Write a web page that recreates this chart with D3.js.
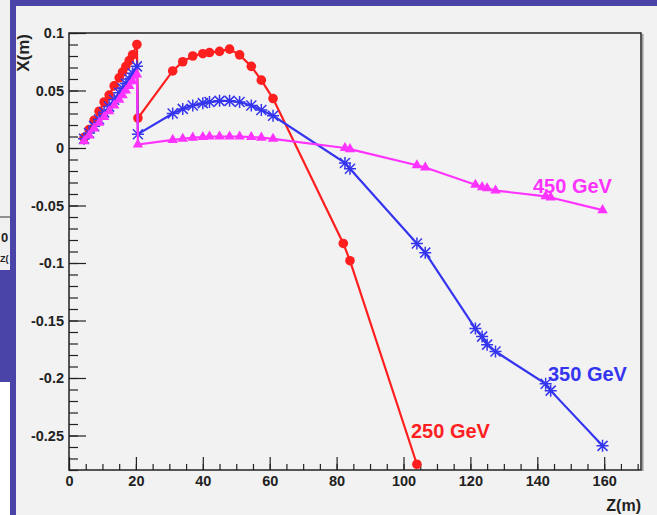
<!DOCTYPE html>
<html lang="en">
<head>
<meta charset="UTF-8">
<title>X vs Z trajectories</title>
<script src="https://cdn.jsdelivr.net/npm/d3@7"></script>
<style>
    html, body { margin: 0; padding: 0; background: #4a44a8; }
    svg { display: block; font-family: "Liberation Sans", Arial, sans-serif; }
</style>
</head>
<body>
<div id="vis"></div>
<script>
    // ---- data (Z in m, X in m) ----
    var z_first = [4.5, 6, 7.5, 9, 10.5, 12, 13.5, 15, 16, 17, 18, 19, 20.3];
    var z_after = [20.6, 31, 34, 37, 40, 42, 45, 48, 51, 54.5, 57.5, 61, 82.5, 84, 104, 106.5, 121.5, 123.5, 125, 127.5, 142.5, 144, 159.5];
    var z_red_after = [20.6, 31, 34, 37, 40, 42, 45, 48, 51, 54.5, 57.5, 61, 82, 84, 104];

    var x_250_first = [0.009, 0.016, 0.024, 0.032, 0.040, 0.046, 0.054, 0.061, 0.066, 0.071, 0.076, 0.081, 0.090];
    var x_250_after = [0.026, 0.067, 0.075, 0.080, 0.082, 0.083, 0.084, 0.086, 0.081, 0.071, 0.059, 0.043, -0.083, -0.098, -0.275];

    var x_350_first = [0.008, 0.013, 0.019, 0.025, 0.031, 0.036, 0.042, 0.048, 0.052, 0.056, 0.060, 0.065, 0.071];
    var x_350_after = [0.012, 0.030, 0.034, 0.037, 0.039, 0.040, 0.041, 0.041, 0.040, 0.037, 0.033, 0.028, -0.013, -0.018, -0.083, -0.091, -0.157, -0.164, -0.171, -0.177, -0.205, -0.211, -0.259];

    var x_450_first = [0.006, 0.011, 0.017, 0.022, 0.027, 0.032, 0.037, 0.042, 0.046, 0.050, 0.054, 0.058, 0.064];
    var x_450_after = [0.003, 0.007, 0.008, 0.009, 0.0095, 0.010, 0.010, 0.010, 0.010, 0.0095, 0.009, 0.008, 0.000, -0.001, -0.015, -0.017, -0.032, -0.034, -0.035, -0.037, -0.042, -0.043, -0.054];

    var y_major = [-0.25, -0.2, -0.15, -0.1, -0.05, 0, 0.05, 0.1];
    var y_labels = ["-0.25", "-0.2", "-0.15", "-0.1", "-0.05", "0", "0.05", "0.1"];
    var x_major = [0, 20, 40, 60, 80, 100, 120, 140, 160];

    function zip(zs, xs) {
        return zs.map(function(z, i) { return {z: z, x: xs[i]}; });
    }

    var series = [
        {name: "250 GeV", color: "#ff1f1f", marker: "circle",
         pts: zip(z_first, x_250_first).concat(zip(z_red_after, x_250_after)),
         label: [411, 438]},
        {name: "350 GeV", color: "#3535f0", marker: "star",
         pts: zip(z_first, x_350_first).concat(zip(z_after, x_350_after)),
         label: [548, 381]},
        {name: "450 GeV", color: "#ff33ff", marker: "triangle",
         pts: zip(z_first, x_450_first).concat(zip(z_after, x_450_after)),
         label: [533, 193]}
    ];

    // ---- layout ----
    var W = 657, H = 515;
    var plot = {left: 69, right: 641, top: 33, bottom: 470};

    var svg = d3.select('#vis').append('svg')
        .attr('width', W)
        .attr('height', H);

    // slide background pieces
    svg.append('rect').attr('x', 0).attr('y', 0).attr('width', W).attr('height', H).attr('fill', '#4a44a8');
    svg.append('rect').attr('x', 0).attr('y', 0).attr('width', 10).attr('height', 270).attr('fill', '#f0f0f0');
    svg.append('line').attr('x1', 0).attr('x2', 10).attr('y1', 217).attr('y2', 217).attr('stroke', '#333').attr('stroke-width', 1);
    svg.append('text').attr('x', 1).attr('y', 242).attr('font-size', 13).attr('font-weight', 'bold').attr('fill', '#222').text('0');
    svg.append('text').attr('x', 0).attr('y', 262).attr('font-size', 9).attr('font-weight', 'bold').attr('fill', '#222').text('Z(');
    svg.append('rect').attr('x', 0).attr('y', 382).attr('width', 10).attr('height', H - 382).attr('fill', '#ffffff');
    svg.append('rect').attr('x', 16).attr('y', 6).attr('width', W - 16).attr('height', H - 6).attr('fill', '#f2f2f2');

    var x_scale = d3.scaleLinear().domain([0, 171]).range([plot.left, plot.right]);
    var y_scale = d3.scaleLinear().domain([-0.28, 0.1]).range([plot.bottom, plot.top]);

    // ---- axes (ticks inside the frame, like ROOT) ----
    var y_minor = d3.range(-28, 11).map(function(d) { return d / 100; });
    var x_minor = d3.range(0, 171, 5);

    svg.append('g')
        .attr('transform', 'translate(' + plot.left + ',0)')
        .call(d3.axisLeft(y_scale).tickValues(y_minor).tickSize(-9).tickFormat(''))
        .call(function(g) { g.select('.domain').remove(); });

    svg.append('g')
        .attr('class', 'y axis')
        .attr('transform', 'translate(' + plot.left + ',0)')
        .call(d3.axisLeft(y_scale).tickValues(y_major).tickSize(-17).tickPadding(5)
            .tickFormat(function(d, i) { return y_labels[i]; }))
        .call(function(g) { g.select('.domain').remove(); });

    svg.append('g')
        .attr('transform', 'translate(0,' + plot.bottom + ')')
        .call(d3.axisBottom(x_scale).tickValues(x_minor).tickSize(-6).tickFormat(''))
        .call(function(g) { g.select('.domain').remove(); });

    svg.append('g')
        .attr('class', 'x axis')
        .attr('transform', 'translate(0,' + plot.bottom + ')')
        .call(d3.axisBottom(x_scale).tickValues(x_major).tickSize(-13).tickPadding(6).tickFormat(d3.format('d')))
        .call(function(g) { g.select('.domain').remove(); });

    svg.selectAll('.tick line').attr('stroke', '#222').attr('stroke-width', 1.2);
    svg.selectAll('.axis text')
        .attr('font-size', 14.5)
        .attr('font-weight', 'bold')
        .attr('font-family', '"Liberation Sans", Arial, sans-serif')
        .attr('fill', '#222');

    // frame
    svg.append('line').attr('x1', plot.right + 1.8).attr('x2', plot.right + 1.8)
        .attr('y1', plot.top + 1).attr('y2', plot.bottom + 1)
        .attr('stroke', '#999').attr('stroke-width', 1.5);
    svg.append('rect')
        .attr('x', plot.left).attr('y', plot.top)
        .attr('width', plot.right - plot.left).attr('height', plot.bottom - plot.top)
        .attr('fill', 'none').attr('stroke', '#222').attr('stroke-width', 1.5);

    // axis titles
    svg.append('text')
        .attr('transform', 'translate(29,' + (plot.top + 1) + ') rotate(-90)')
        .attr('text-anchor', 'end')
        .attr('font-size', 17).attr('font-weight', 'bold').attr('fill', '#222')
        .text('X(m)');
    svg.append('text')
        .attr('x', plot.right).attr('y', 511)
        .attr('text-anchor', 'end')
        .attr('font-size', 16).attr('font-weight', 'bold').attr('fill', '#222')
        .text('Z(m)');

    // ---- curves ----
    var line = d3.line()
        .x(function(d) { return x_scale(d.z); })
        .y(function(d) { return y_scale(d.x); });

    var star = 'M-5,-5L5,5M-5,5L5,-5M-6,0L6,0M0,-6L0,6';
    var tri = d3.symbol().type(d3.symbolTriangle).size(48)();

    series.forEach(function(s) {
        var g = svg.append('g');
        g.append('path')
            .datum(s.pts)
            .attr('fill', 'none')
            .attr('stroke', s.color)
            .attr('stroke-width', 2.2)
            .attr('d', line);

        var m = g.selectAll('.m').data(s.pts).enter();
        if (s.marker === 'circle') {
            m.append('circle')
                .attr('cx', function(d) { return x_scale(d.z); })
                .attr('cy', function(d) { return y_scale(d.x); })
                .attr('r', 4.8)
                .attr('fill', s.color);
        } else if (s.marker === 'star') {
            m.append('path')
                .attr('transform', function(d) { return 'translate(' + x_scale(d.z) + ',' + y_scale(d.x) + ')'; })
                .attr('d', star)
                .attr('stroke', s.color)
                .attr('stroke-width', 1.5)
                .attr('fill', 'none');
        } else {
            m.append('path')
                .attr('transform', function(d) { return 'translate(' + x_scale(d.z) + ',' + y_scale(d.x) + ')'; })
                .attr('d', tri)
                .attr('fill', s.color);
        }

        svg.append('text')
            .attr('x', s.label[0]).attr('y', s.label[1])
            .attr('font-size', 20).attr('font-weight', 'bold')
            .attr('fill', s.color)
            .text(s.name);
    });
</script>
</body>
</html>
